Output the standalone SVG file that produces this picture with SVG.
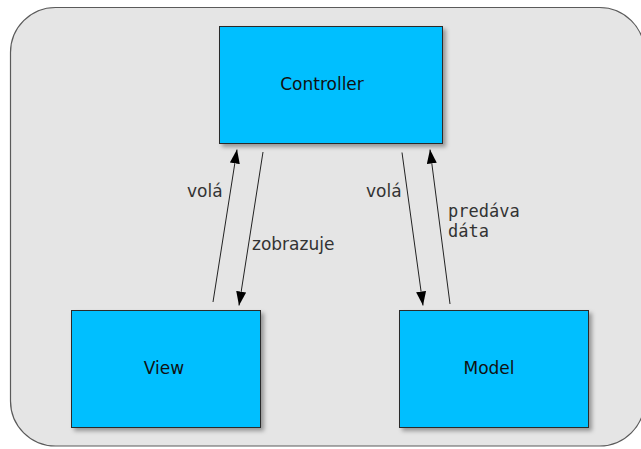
<svg xmlns="http://www.w3.org/2000/svg" width="641" height="449" viewBox="0 0 641 449">
  <style>
    .frame { fill: #e5e5e5; stroke: #5a5a5a; stroke-width: 1.2; }
    .box { fill: #00bfff; stroke: #2b2b2b; stroke-width: 1; filter: url(#shadow); }
    .name { font-family: "DejaVu Sans", Verdana, sans-serif; font-size: 17px; fill: #111; text-anchor: middle; }
    .label { font-family: "DejaVu Sans", Verdana, sans-serif; font-size: 17px; fill: #333; }
    .mono { font-family: "DejaVu Sans Mono", "Liberation Mono", monospace; font-size: 17px; fill: #333; }
    .link { stroke: #222; stroke-width: 1; fill: none; marker-end: url(#arrow); }
  </style>
  <defs>
    <filter id="shadow" x="-10%" y="-10%" width="130%" height="130%">
      <feDropShadow dx="3" dy="3" stdDeviation="2" flood-color="#000" flood-opacity="0.35"/>
    </filter>
    <marker id="arrow" markerUnits="userSpaceOnUse" markerWidth="14" markerHeight="10" refX="14" refY="5" orient="auto">
      <path d="M0,0 L14,5 L0,10 z" fill="#000"/>
    </marker>
  </defs>

  <!-- rounded background panel -->
  <rect class="frame" x="10.5" y="7.5" width="634" height="438.5" rx="45" ry="45"/>

  <g id="controller">
    <rect class="box" x="219.5" y="26.5" width="223" height="117"/>
    <text class="name" x="322" y="90">Controller</text>
  </g>

  <g id="view">
    <rect class="box" x="71.5" y="310.5" width="189" height="117"/>
    <text class="name" x="164" y="374">View</text>
  </g>

  <g id="model">
    <rect class="box" x="399.5" y="310.5" width="189" height="117"/>
    <text class="name" x="489" y="374">Model</text>
  </g>

  <g id="connectors">
    <line class="link" x1="213" y1="302" x2="237" y2="149.5"/>
    <line class="link" x1="263" y1="152" x2="239" y2="305.5"/>
    <line class="link" x1="402" y1="152.5" x2="423" y2="305.5"/>
    <line class="link" x1="450" y1="304" x2="430" y2="149.5"/>
    <text class="label" x="187" y="197">volá</text>
    <text class="label" x="252" y="250">zobrazuje</text>
    <text class="label" x="366" y="197">volá</text>
    <text class="mono" x="448" y="217">predáva</text>
    <text class="mono" x="448" y="237">dáta</text>
  </g>
</svg>
